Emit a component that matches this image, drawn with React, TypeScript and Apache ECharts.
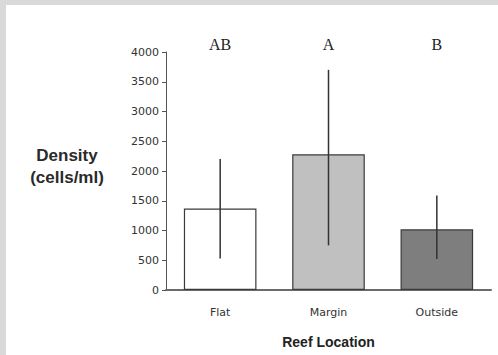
import React, { useEffect, useRef } from "react";
import * as echarts from "echarts";

const categories = ["Flat", "Margin", "Outside"];
const means = [1370, 2280, 1020];
const errLow = [530, 750, 520];
const errHigh = [2200, 3700, 1590];
const letters = ["AB", "A", "B"];
const barColors = ["#ffffff", "#c0c0c0", "#7e7e7e"];
const yTicks = [0, 500, 1000, 1500, 2000, 2500, 3000, 3500, 4000];

export default function App() {
  const ref = useRef<HTMLDivElement>(null);
  useEffect(() => {
    if (!ref.current) return;
    const chart = echarts.init(ref.current, null, { renderer: "svg" });
    chart.setOption({
      animation: false,
      backgroundColor: "#ffffff",
      graphic: [
        { type: "rect", z: -10, shape: { x: 0, y: 0, width: 498, height: 5 }, style: { fill: "#d9d9d9" }, silent: true },
        { type: "rect", z: -10, shape: { x: 0, y: 0, width: 6, height: 355 }, style: { fill: "#d9d9d9" }, silent: true },
        {
          type: "text",
          x: 67,
          y: 166,
          style: {
            text: "Density\n(cells/ml)",
            fontFamily: "Liberation Sans, Arial, sans-serif",
            fontSize: 17,
            fontWeight: "bold",
            fill: "#2a2a2a",
            align: "center",
            verticalAlign: "middle",
            lineHeight: 22,
          },
        },
      ],
      grid: { left: 166, right: 7, top: 52, bottom: 65 },
      xAxis: [
        {
          type: "category",
          data: categories,
          axisLine: { show: true, lineStyle: { color: "#6a6a6a", width: 2 } },
          axisTick: { show: false },
          axisLabel: {
            color: "#333",
            fontSize: 11,
            fontFamily: "DejaVu Sans, sans-serif",
            margin: 17,
          },
          name: "Reef Location",
          nameLocation: "middle",
          nameGap: 45,
          nameTextStyle: {
            color: "#222",
            fontSize: 14,
            fontWeight: "bold",
            fontFamily: "Liberation Sans, Arial, sans-serif",
          },
        },
        {
          type: "category",
          position: "top",
          data: letters,
          axisLine: { show: false },
          axisTick: { show: false },
          axisLabel: {
            color: "#222",
            fontSize: 16,
            fontFamily: "Liberation Serif, DejaVu Serif, serif",
            margin: 0,
          },
        },
      ],
      yAxis: {
        type: "value",
        min: 0,
        max: 4000,
        interval: 500,
        axisLine: { show: true, lineStyle: { color: "#555", width: 1 } },
        axisTick: { show: true, length: 4, lineStyle: { color: "#555" } },
        splitLine: { show: false },
        axisLabel: {
          color: "#333",
          fontSize: 11,
          fontFamily: "DejaVu Sans, sans-serif",
          margin: 7,
          formatter: (v: number) => (yTicks.includes(v) ? String(v) : ""),
        },
      },
      series: [
        {
          type: "bar",
          xAxisIndex: 0,
          barCategoryGap: "33%",
          data: means.map((v, i) => ({
            value: v,
            itemStyle: { color: barColors[i], borderColor: "#3a3a3a", borderWidth: 1.2 },
          })),
        },
        {
          type: "custom",
          xAxisIndex: 0,
          data: categories.map((_, i) => [i, errLow[i], errHigh[i]]),
          renderItem: (params: any, api: any) => {
            const i = api.value(0);
            const lo = api.coord([i, api.value(1)]);
            const hi = api.coord([i, api.value(2)]);
            return {
              type: "line",
              shape: { x1: lo[0], y1: lo[1], x2: hi[0], y2: hi[1] },
              style: { stroke: "#333", lineWidth: 1.5 },
            };
          },
          z: 5,
        },
      ],
    });
    return () => chart.dispose();
  }, []);
  return (
    <div
      ref={ref}
      style={{ position: "absolute", left: 0, top: 0, width: 498, height: 355 }}
    />
  );
}
